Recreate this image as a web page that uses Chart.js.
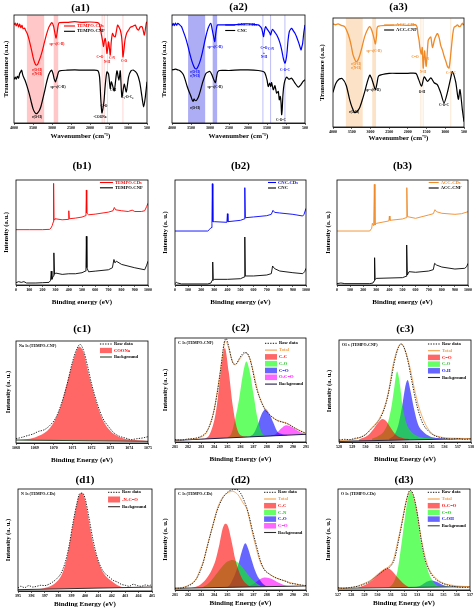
<!DOCTYPE html>
<html>
<head>
<meta charset="utf-8">
<script src="https://cdn.jsdelivr.net/npm/chart.js@4.4.0/dist/chart.umd.min.js"></script>
<style>
body{margin:0;background:#fff;width:474px;height:616px;position:relative;overflow:hidden}
canvas{position:absolute}
</style>
</head>
<body>
<script>
// ---------- (a) FTIR spectra: [wavenumber, transmittance a.u.] ----------
const a1_cds = [[4000,90.7],[3970,92.6],[3940,89.8],[3910,92.3],[3880,88.9],[3850,91.6],[3820,88.2],[3790,90.4],[3760,87.3],[3720,87.9],[3700,86.1],[3650,82.7],[3600,76.8],[3550,69.3],[3500,61.3],[3460,56.3],[3420,53.6],[3380,54.2],[3350,56.7],[3300,61.5],[3250,67.5],[3200,74.6],[3150,81.4],[3094,87.6],[3050,90.7],[3006,92.9],[2960,89.8],[2930,84.5],[2892,78.6],[2860,85.1],[2830,91.6],[2800,92.9],[2600,93.2],[2400,93.8],[2200,93.2],[2000,93.5],[1800,92.9],[1750,91.3],[1705,83],[1670,76.2],[1643,70.6],[1620,76.5],[1599,78.3],[1575,72.5],[1555,64.4],[1530,70.3],[1511,75.2],[1490,69.6],[1467,62.8],[1440,75.5],[1406,83],[1370,80.2],[1335,79.9],[1300,86.1],[1274,90.7],[1240,88.9],[1203,86.1],[1170,80.2],[1150,72.1],[1133,61.3],[1110,66.9],[1090,73.7],[1072,78.3],[1030,83.6],[984,86.1],[940,88.6],[896,89.2],[850,90.1],[808,90.7],[770,87.6],[720,86.1],[680,88.9],[632,89.2],[600,85.8],[570,81.4],[540,87.3],[520,92.3],[500,93.8]];
const a1_cnf = [[4000,40.2],[3970,42.4],[3940,40.6],[3910,43.3],[3880,41.5],[3850,45.8],[3820,47.7],[3798,48.9],[3770,44.6],[3740,41.8],[3710,39.6],[3660,34.4],[3600,27.2],[3550,20.1],[3500,13.3],[3460,10.2],[3420,8.7],[3380,9.3],[3330,11.8],[3290,15.5],[3250,21.1],[3200,28.5],[3150,36.5],[3100,43.3],[3050,47.4],[3006,48.9],[2970,45.2],[2940,40.6],[2910,38.1],[2890,39.9],[2860,43.3],[2830,47.1],[2800,48.3],[2600,48.9],[2400,49.2],[2200,48.9],[2000,48.9],[1800,48.6],[1749,42.7],[1714,21.1],[1687,9.3],[1660,13.3],[1630,21.1],[1599,35],[1555,47.4],[1511,45.2],[1467,31.9],[1440,38.1],[1415,35.9],[1362,29.7],[1291,48.3],[1239,39.6],[1203,48.3],[1160,24.1],[1098,35.9],[1045,28.8],[984,42.7],[922,48.3],[852,48.9],[764,45.8],[693,38.1],[632,24.1],[588,14.9],[544,24.1],[500,38.1]];
const a2_cds = [[4000,89.8],[3970,92.3],[3940,90.2],[3910,92.6],[3880,90.5],[3850,92.3],[3800,91],[3750,89.2],[3700,84.6],[3650,79.7],[3600,73.8],[3550,66.8],[3500,60],[3450,54.5],[3402,50.8],[3350,50.2],[3300,53.5],[3250,58.5],[3200,65.5],[3150,73.8],[3100,81.5],[3050,87.7],[2980,92.3],[2940,86.2],[2900,79],[2874,75.4],[2850,82.5],[2820,89.2],[2800,90.8],[2500,90.8],[2200,91.4],[2000,91.7],[1800,91.1],[1731,90.8],[1680,89.5],[1643,87.7],[1610,83.1],[1590,80],[1565,85.5],[1538,89.2],[1500,87.1],[1467,85.5],[1430,83.6],[1406,81.5],[1380,84.6],[1353,86.8],[1310,84.9],[1274,83.1],[1240,81.2],[1203,78.5],[1170,75.4],[1133,70.8],[1100,65.2],[1072,60],[1050,57.2],[1028,55.4],[1000,58.5],[975,64.6],[945,76.9],[913,84.6],[880,86.8],[852,87.7],[810,85.5],[764,83.1],[720,79.7],[676,75.4],[640,71.4],[606,67.7],[585,70.2],[562,73.8],[530,84],[500,90.8]];
const a2_cnc = [[4000,49.2],[3950,49.5],[3900,49.8],[3850,49.2],[3800,48.6],[3750,47.1],[3700,44.6],[3650,39.7],[3600,33.8],[3550,28.9],[3500,24.6],[3470,21.5],[3446,20],[3420,22.2],[3400,21.2],[3370,20.6],[3340,21.8],[3300,24.6],[3250,30.2],[3200,36.9],[3150,42.2],[3100,46.2],[3000,47.7],[2950,44.6],[2900,40],[2857,37.5],[2830,42.2],[2800,47.1],[2750,48.6],[2500,48.6],[2200,49.2],[2000,49.2],[1731,48.6],[1600,47.7],[1555,46.2],[1500,40],[1467,33.8],[1430,36.9],[1400,33.8],[1379,37.5],[1335,30.8],[1291,34.5],[1247,27.7],[1203,29.2],[1177,21.5],[1151,24.6],[1130,18.5],[1115,7.7],[1100,12.3],[1080,26.2],[1045,36.9],[984,42.5],[922,40.6],[852,41.5],[764,36.9],[676,33.2],[610,35.4],[550,38.5],[500,40]];
const a3_cds = [[4000,94.6],[3933,93.8],[3867,94.6],[3780,93.3],[3690,92.1],[3620,87.3],[3557,81],[3510,74],[3468,66.7],[3420,62.2],[3380,59.7],[3335,61.3],[3291,65.1],[3225,73.3],[3158,82.5],[3090,88.6],[3025,92.1],[2980,90.2],[2937,85.7],[2900,80.6],[2866,76.2],[2835,84.1],[2804,92.1],[2500,93.3],[2228,93.7],[2000,93.3],[1785,93.7],[1750,91.1],[1732,85.7],[1700,79.4],[1679,73],[1643,66.7],[1616,73],[1590,54],[1554,69.8],[1510,55.6],[1457,79.4],[1420,81.6],[1386,82.5],[1342,73],[1289,80],[1250,83.5],[1209,85.7],[1160,81.3],[1120,74.6],[1075,70.5],[1032,65.1],[985,60.3],[943,55.6],[899,54],[846,69.8],[800,85.1],[766,91.4],[720,92.4],[677,93.7],[630,92.1],[589,92.7],[544,95.2],[520,93.7],[500,94.6]];
const a3_cnf = [[4000,31.7],[3929,39.7],[3841,43.8],[3752,44.4],[3646,38.1],[3557,25.4],[3490,18],[3424,13.3],[3360,14.2],[3291,17.5],[3220,24.5],[3158,31.7],[3090,40.5],[3018,47.6],[2975,45.1],[2937,41.3],[2866,34.3],[2820,41],[2777,47],[2500,49.2],[2228,49.2],[2000,49.2],[1785,49.2],[1714,43.8],[1634,37.5],[1563,46],[1475,41.9],[1386,45.1],[1297,40.6],[1209,38.7],[1120,31.1],[1032,22.2],[943,31.7],[854,45.1],[810,50.8],[722,41.3],[651,25.4],[607,34.3],[544,15.9],[500,4.8]];

// ---------- (b) XPS survey: [binding energy, intensity a.u.] ----------
const b1_cds = [[0,52.7],[100,52.7],[200,52.7],[255,53],[265,54.3],[275,56.8],[282,59.9],[285,96.8],[288,62.1],[295,63.1],[350,62.1],[396,62.5],[400,70.7],[404,63.1],[450,63.7],[500,64.7],[525,65.9],[530,67.8],[533,90.5],[536,68.5],[550,66.9],[600,67.5],[700,69.4],[735,70.7],[745,73.8],[755,71.6],[800,70.7],[850,70],[880,71.3],[900,70],[950,70],[975,70.7],[990,74.8],[1000,77.9]];
const b1_cnf = [[0,2.2],[20,3.2],[40,2.5],[60,3.2],[80,1.9],[150,1.9],[200,2.2],[250,2.5],[262,4.4],[267,13.2],[272,5.4],[282,8.5],[287,30.6],[292,10.1],[300,11.4],[350,10.1],[400,10.7],[450,10.7],[500,11.7],[525,13.2],[530,16.4],[533,46.4],[537,16.4],[550,12.6],[600,13.2],[700,14.5],[730,16.4],[742,24.3],[750,21.1],[760,22.7],[800,19.6],[900,16.4],[975,14.5],[990,18.9],[1000,22.7]];
const b2_cds = [[0,51.4],[250,51.4],[262,52.7],[275,54.6],[282,58.4],[285,96.5],[289,60.3],[300,60.3],[396,59.7],[400,67.9],[404,60.3],[500,61.6],[528,62.9],[533,92.7],[537,64.1],[600,64.8],[700,66],[735,67.3],[748,71.1],[760,69.2],[800,68.6],[900,67.3],[975,65.7],[985,67.3],[1000,73]];
const b2_cnc = [[0,1.3],[10,2.5],[20,1.9],[50,1],[250,1],[275,1.9],[283,4.4],[288,21.9],[292,4.4],[300,5.4],[400,5.4],[500,6],[528,7.6],[533,45.7],[537,8.6],[600,8.6],[700,9.5],[735,10.8],[745,18.1],[760,15.6],[800,13.3],[900,11.7],[975,10.8],[990,12.7],[1000,15.9]];
const b3_cds = [[0,51.4],[250,51.4],[265,54],[270,58.7],[280,56.5],[285,95.9],[290,57.1],[300,58.7],[396,61],[400,65.7],[404,61.6],[500,62.9],[528,64.1],[533,92.7],[538,65.1],[600,63.5],[700,66.7],[735,67.9],[748,71.7],[760,69.8],[800,68.3],[900,67.3],[950,67.9],[1000,69.8]];
const b3_cnf = [[0,1.3],[30,1.9],[60,1.3],[250,1.3],[275,1.9],[283,3.8],[287,26],[291,5.1],[300,6.3],[500,7],[528,8.3],[532,38.1],[537,9.5],[550,12.7],[600,12.1],[700,13.3],[735,14.6],[745,20.6],[760,19],[800,17.1],[900,15.2],[975,15.9],[990,17.5],[1000,20.6]];

// ---------- (c) high resolution, TEMPO-CNF ----------
const c1_raw = [[1068,4.2],[1068.3,5.5],[1068.6,7.2],[1068.9,8.8],[1069.2,11.4],[1069.5,13],[1069.8,17.3],[1070.1,24.4],[1070.4,38.1],[1070.7,57],[1071,79.8],[1071.2,91.2],[1071.4,96.7],[1071.6,89.6],[1071.8,74.9],[1072,58.6],[1072.3,39.1],[1072.6,24.4],[1072.9,16.3],[1073.2,9.8],[1073.5,6.5],[1073.8,4.9],[1074.1,3.3],[1074.4,4.2],[1074.7,4.9],[1075,6.2]];
const c1_coona = [[1068,2.9],[1068.5,3.6],[1069,5.5],[1069.5,9.8],[1069.8,14.7],[1070.1,23.8],[1070.4,37.5],[1070.8,65.1],[1071.1,84.7],[1071.35,94.5],[1071.6,87.9],[1071.8,71.7],[1072,57],[1072.3,37.5],[1072.6,22.8],[1072.9,14],[1073.3,7.5],[1073.8,3.9],[1074.5,2.6],[1075,2]];
const c1_bg = [[1068,2.9],[1075,1.6]];

const c2_raw = [[281,2.3],[281.5,1.9],[282,2.9],[282.5,3.5],[283,5.5],[283.3,8.1],[283.6,14.5],[283.9,25.8],[284.2,45.2],[284.5,71],[284.75,95.2],[284.9,99.4],[285.1,91.9],[285.3,80.6],[285.5,74.8],[285.7,75.5],[285.9,80],[286.1,83.9],[286.3,86.1],[286.5,85.5],[286.7,80.6],[286.9,71],[287.1,58.1],[287.3,48.4],[287.6,38.1],[287.9,30.6],[288.2,26.5],[288.5,23.2],[288.8,20.6],[289.1,19.4],[289.4,18.4],[289.7,16.8],[290,14.5],[290.3,12.3],[290.6,10.3],[291,8.4]];
const c2_total = [[281,1.9],[282,2.6],[283,4.8],[283.5,11.3],[284,32.3],[284.3,54.8],[284.6,80.6],[284.85,97.4],[285.1,90.3],[285.4,76.8],[285.6,74.2],[285.9,79],[286.2,83.9],[286.4,85.5],[286.7,80.6],[287,66.1],[287.3,50],[287.6,38.7],[288,29.7],[288.4,24.2],[288.8,21],[289.2,19.4],[289.6,17.7],[290,14.5],[290.5,11.3],[291,8.1]];
const c2_bg = [[281,1.6],[291,7.4]];
const c2_cc = [[283,2.8],[283.5,4.8],[284,21],[284.2,35.5],[284.5,67.7],[284.8,90.3],[285.1,67.7],[285.4,35.5],[285.7,14.5],[286,6.5],[286.5,5]];
const c2_co = [[285,4.2],[285.3,8.1],[285.6,22.6],[285.9,41.9],[286.2,66.1],[286.45,77.4],[286.7,67.7],[287,45.2],[287.3,22.6],[287.6,9.7],[288,6],[288.5,6.1]];
const c2_c2o = [[286.7,5.2],[287,8.1],[287.3,16.1],[287.6,26.5],[287.9,31.6],[288.2,27.4],[288.5,18.7],[288.8,10.3],[289.2,7.5],[289.6,6.8]];
const c2_oco = [[288.3,6.2],[288.7,7.6],[289.1,12.9],[289.5,16.1],[289.9,14.5],[290.3,11.3],[290.7,8.6],[291,7.6]];

const c3_raw = [[528,2],[528.4,2.6],[528.8,2.3],[529.2,3.6],[529.6,4.6],[530,7.2],[530.4,12.1],[530.8,17.6],[531.2,25.1],[531.6,39.7],[531.9,57.7],[532.2,78.8],[532.5,92.5],[532.7,95.8],[532.9,93.5],[533.2,80.5],[533.5,60.9],[533.8,41.4],[534.1,26.7],[534.4,16.9],[534.8,10.4],[535.2,6.5],[535.6,4.6],[536,3.6],[536.5,2.9],[537,3.3],[537.5,2.6],[538,2.9]];
const c3_total = [[528,1.3],[529,2.3],[529.5,3.9],[530,7.2],[530.5,14.3],[531,21.8],[531.5,36.5],[531.8,52.8],[532.1,75.6],[532.4,90.2],[532.7,96.7],[533,90.2],[533.3,77.2],[533.7,52.8],[534,36.5],[534.5,18.6],[535,8.8],[535.5,5.5],[536,4.2],[537,3.6],[538,3.3]];
const c3_bg = [[528,0.7],[538,3.3]];
const c3_c2o = [[529.5,2.3],[530.2,6.5],[530.7,14.3],[531,19.5],[531.3,22.5],[531.6,20.2],[531.9,14.3],[532.3,7.2],[532.8,3.9],[533.3,2.9]];
const c3_co = [[530.5,3.3],[531,6.2],[531.4,10.4],[531.7,18.6],[532,36.5],[532.2,54.4],[532.4,69.1],[532.6,57.7],[532.8,36.5],[533.1,18.6],[533.5,9.8],[534,5.5],[534.6,3.9],[535.2,3.3]];
const c3_oh = [[531.8,3.3],[532.2,7.2],[532.5,16.9],[532.8,36.5],[533,52.8],[533.2,60.9],[533.4,51.1],[533.7,31.6],[534,16.9],[534.4,9.8],[534.9,5.5],[535.5,3.9],[536.2,3.3]];

// ---------- (d) high resolution, TEMPO-CDs ----------
const d1_raw = [[395,3],[395.2,4.6],[395.5,3.3],[395.8,5.3],[396.1,3.9],[396.4,4.6],[396.7,5.6],[397,5.3],[397.3,6.6],[397.6,8.9],[397.9,12.2],[398.2,17.1],[398.5,27],[398.8,43.4],[399.1,66.4],[399.4,86.2],[399.6,95.4],[399.8,96],[400,91.1],[400.3,71.4],[400.6,50],[400.9,33.6],[401.2,23],[401.5,17.1],[401.8,13.8],[402.1,10.5],[402.4,8.9],[402.7,6.6],[403,5.6],[403.3,4.6],[403.6,6.6],[403.9,5.3],[404.2,4.6],[404.5,5.9],[404.8,5.3],[405,6.6]];
const d1_nco = [[395,1.3],[396.5,1.8],[397,3],[397.4,4.6],[398,10.5],[398.3,17.1],[398.6,29.6],[399,58.2],[399.3,79.6],[399.55,93.4],[399.75,96],[400,89.5],[400.3,68.1],[400.6,46.7],[401,28.6],[401.4,17.1],[401.9,10.5],[402.6,4.6],[403.2,3.4],[403.8,3.6],[405,3.9]];
const d1_bg = [[395,1.3],[405,3.9]];

const d2_raw = [[281,1.7],[281.5,2],[282,4],[282.4,7.3],[282.8,14.9],[283.1,24.8],[283.4,39.7],[283.8,59.6],[284.2,77.8],[284.6,90.1],[285,96.7],[285.4,99.3],[285.7,99.6],[286,96],[286.3,87.7],[286.6,76.2],[286.9,59.6],[287.2,44.7],[287.5,29.8],[287.8,20.5],[288.2,15.9],[288.6,12.6],[289,10.6],[289.4,8.9],[289.8,6.6],[290.2,6],[290.6,5],[291,4.3]];
const d2_total = [[281,1.7],[281.6,2.6],[282.2,6],[282.6,10.6],[282.9,19.9],[283.2,29.8],[283.5,45.7],[283.9,64.6],[284.2,79.5],[284.6,91.1],[285,96],[285.4,97.7],[285.8,94.4],[286.2,86.1],[286.5,79.5],[286.8,62.9],[287.1,46.4],[287.5,28.1],[287.85,19.9],[288.3,14.9],[288.8,11.6],[289.3,9.3],[289.8,7.3],[290.4,5.3],[291,4]];
const d2_bg = [[281,1.7],[291,4]];
const d2_cc = [[282.2,2],[282.6,3.3],[283,6],[283.5,13.2],[283.8,19.9],[284.1,29.8],[284.4,45.7],[284.65,61.3],[284.85,65.6],[285.05,62.9],[285.35,46.4],[285.6,30.5],[286.05,13.2],[286.4,6.6],[286.8,3.3],[287.3,3.1]];
const d2_cn = [[283,2.3],[283.5,6],[284,13.2],[284.5,21.5],[285,28.1],[285.4,29.8],[285.8,27.2],[286.3,19.9],[286.8,11.6],[287.3,6],[287.8,3.3],[288.3,3.4]];
const d2_co = [[284.8,2.6],[285.1,4],[285.5,13.2],[285.8,23.8],[286.1,38.1],[286.37,46.4],[286.6,40.4],[286.85,29.8],[287.1,19.9],[287.4,11.6],[287.9,4.3],[288.4,3.4]];
const d2_c2o = [[286.5,3.2],[287,6],[287.4,9.9],[287.85,12.3],[288.3,11.3],[288.8,7.9],[289.3,5],[289.8,3.9],[290.5,3.9]];

const d3_raw = [[527,2.3],[527.4,1.7],[527.8,2.3],[528.2,3],[528.6,4],[529,6],[529.4,8.3],[529.8,12.6],[530.2,16.6],[530.6,20.5],[531,23.8],[531.3,31.5],[531.6,49.7],[531.9,69.5],[532.2,89.4],[532.45,98.7],[532.7,94.4],[533,76.2],[533.3,49.7],[533.6,29.8],[534,17.2],[534.4,10.6],[534.8,7.3],[535.2,5.3],[535.6,4],[536,3],[536.5,2.6],[537,2.6]];
const d3_total = [[527,1.7],[528,2.3],[528.5,4],[529,6.6],[529.5,9.9],[530,15.6],[530.5,20.5],[530.9,23.8],[531.2,29.8],[531.5,46.4],[531.8,64.6],[532.1,84.4],[532.35,96],[532.5,98.3],[532.7,93.4],[532.95,79.5],[533.3,51.3],[533.7,28.1],[534,18.2],[534.5,10.6],[535,6.6],[535.5,5],[536,4],[537,3.3]];
const d3_bg = [[527,1.7],[537,3.3]];
const d3_oco = [[528.5,2.3],[529,4.6],[529.5,8.6],[530,14.9],[530.4,19.9],[530.75,21.5],[531.1,18.9],[531.5,12.6],[532,6],[532.5,2.6],[533,2.6]];
const d3_c2o = [[530.5,2.3],[531,4],[531.3,9.9],[531.5,18.2],[531.8,44.7],[532.05,69.5],[532.3,91.1],[532.5,97.7],[532.7,92.1],[532.95,77.8],[533.3,46.4],[533.8,19.9],[534.1,10.6],[534.45,5],[535,3.1],[535.5,3.1]];
const d3_coh = [[532.8,2.6],[533.2,4],[533.6,7.3],[534.05,9.3],[534.5,7.9],[535,4.6],[535.5,3.2],[536,3.1]];

// colours
const RED = '#ff0000', BLUE = '#0000ff', ORANGE = '#ef8a28', BLACK = '#000000', TOTAL = '#f5a04a';
const F_RED = 'rgba(255,0,0,0.6)', F_GRN = 'rgba(0,255,0,0.6)', F_BLU = 'rgba(0,0,255,0.6)', F_MAG = 'rgba(255,0,255,0.6)';
const SERIF = '"Liberation Serif", "Times New Roman", serif';
const PAD = {l: 16, t: 22, r: 10, b: 24};

function xy(a) { return a.map(p => ({x: p[0], y: p[1]})); }
function trace(a, color, w, label, smooth) {
  return {label, data: xy(a), borderColor: color, borderWidth: w, pointRadius: 0, fill: false,
    tension: smooth ? 0.25 : 0, kind: 'line', lc: color};
}
function dots(a) {
  return {label: 'Raw data', data: xy(a), borderColor: '#111', borderWidth: 0.9, borderDash: [1.3, 1.3],
    pointRadius: 0, fill: false, cubicInterpolationMode: 'monotone', kind: 'dash', lc: BLACK};
}
function fitline(a, color, w, label, lc) {
  return {label, data: xy(a), borderColor: color, borderWidth: w, pointRadius: 0, fill: false,
    cubicInterpolationMode: 'monotone', kind: 'line', lc: lc || color};
}
function peak(a, color, label, lc, target) {
  return {label, data: xy(a), borderWidth: 0, borderColor: 'rgba(0,0,0,0)', backgroundColor: color,
    pointRadius: 0, fill: target, cubicInterpolationMode: 'monotone', kind: 'box', lc};
}
function band(x1, x2, color) {
  return {data: xy([[x1, 100], [x2, 100]]), borderWidth: 0, borderColor: 'rgba(0,0,0,0)',
    backgroundColor: color, pointRadius: 0, fill: 'start'};
}
function mark(x, color) {
  return {data: xy([[x, 0], [x, 100]]), borderWidth: 0.8, borderColor: color, pointRadius: 0, fill: false};
}

// decorations: frame, panel title, in-plot notes, legend
function deco(p) {
  return {
    id: 'deco',
    afterDraw(chart) {
      const c = chart.ctx, a = chart.chartArea, sx = chart.scales.x, sy = chart.scales.y;
      c.save();
      c.strokeStyle = '#000'; c.lineWidth = 0.8;
      c.strokeRect(a.left, a.top, a.right - a.left, a.bottom - a.top);
      c.textAlign = 'center'; c.textBaseline = 'middle'; c.fillStyle = '#000';
      c.font = 'bold 11px ' + SERIF;
      c.fillText(p.title, (a.left + a.right) / 2, a.top - p.titleGap);
      c.font = 'bold 3.4px ' + SERIF;
      (p.notes || []).forEach(n => {
        c.fillStyle = n[3];
        c.fillText(n[0], sx.getPixelForValue(n[1]), sy.getPixelForValue(n[2]));
      });
      c.textAlign = 'left';
      if (p.tag) {
        c.font = 'bold 4px ' + SERIF; c.fillStyle = '#000';
        c.fillText(p.tag, a.left + 3, a.top + 4.5);
      }
      const L = p.legend;
      const x0 = a.left + L.fx * (a.right - a.left);
      c.font = 'bold 4.6px ' + SERIF;
      L.items.forEach((idx, i) => {
        const d = chart.data.datasets[idx];
        const y = a.top + L.dy + i * L.row;
        if (d.kind === 'box') {
          c.fillStyle = d.backgroundColor;
          c.fillRect(x0, y - L.row / 2 + 0.6, L.sl, L.row - 1.2);
        } else {
          c.strokeStyle = d.borderColor;
          c.lineWidth = d.kind === 'dash' ? 1 : 1.1;
          c.setLineDash(d.kind === 'dash' ? [1.3, 1.3] : []);
          c.beginPath(); c.moveTo(x0, y); c.lineTo(x0 + L.sl, y); c.stroke();
          c.setLineDash([]);
        }
        c.fillStyle = d.lc;
        c.fillText(d.label, x0 + L.sl + 2, y);
      });
      c.restore();
    }
  };
}

function draw(p) {
  const [L, T, R, B] = p.box;
  const cv = document.createElement('canvas');
  cv.width = R - L + PAD.l + PAD.r;
  cv.height = B - T + PAD.t + PAD.b;
  cv.style.left = (L - PAD.l) + 'px';
  cv.style.top = (T - PAD.t) + 'px';
  document.body.appendChild(cv);
  new Chart(cv, {
    type: 'line',
    data: {datasets: p.sets},
    options: {
      responsive: false, animation: false, devicePixelRatio: 1,
      layout: {padding: {left: 0, top: PAD.t, right: PAD.r, bottom: 0}},
      plugins: {legend: {display: false}, tooltip: {enabled: false}},
      scales: {
        x: {
          type: 'linear', min: p.xr[0], max: p.xr[1], reverse: !!p.rev,
          afterFit(ax) { ax.height = PAD.b; ax.paddingLeft = 0; ax.paddingRight = 0; },
          ticks: {stepSize: p.step, autoSkip: false, maxRotation: 0, padding: 1, color: '#000',
            font: {family: SERIF, size: 4, weight: 'bold'}, callback: v => String(v)},
          grid: {drawOnChartArea: false, drawTicks: true, tickLength: 2, color: '#000', lineWidth: 0.6},
          border: {color: '#000', width: 0.8},
          title: {display: true, text: p.xt, color: '#000', font: {family: SERIF, size: 7, weight: 'bold'},
            padding: {top: 0, bottom: PAD.b - p.xGap - 4.2}}
        },
        y: {
          min: 0, max: 100,
          afterFit(ax) { ax.width = PAD.l; ax.paddingTop = 0; ax.paddingBottom = 0; },
          ticks: {display: false}, grid: {display: false}, border: {display: false},
          title: {display: true, text: p.yt, color: '#000', font: {family: SERIF, size: 6.5, weight: 'bold'},
            padding: {top: PAD.l - p.yGap - 3.9, bottom: 0}}
        }
      }
    },
    plugins: [deco(p)]
  });
}

const FT = 'Wavenumber (cm\u207B\u00B9)';
const TR = 'Transmittance (a.u.)';
const BE = 'Binding energy (eV)', BE2 = 'Binding Energy (eV)';
const INT = 'Intensity (a.u.)', INT2 = 'Intensity (a. u.)';
const PINK = 'rgba(255,0,0,0.22)', LILAC = 'rgba(40,40,230,0.38)', PEACH = 'rgba(245,150,50,0.28)';

const panels = [
  {title: '(a1)', box: [14, 15, 147, 123], titleGap: 7, yGap: 8, xGap: 13, xr: [500, 4000], rev: true, step: 500, xt: FT, yt: TR,
    sets: [trace(a1_cds, RED, 1.2, 'TEMPO-CDs', true), trace(a1_cnf, BLACK, 1.2, 'TEMPO-CNF', true),
      band(3666, 3200, PINK), band(2962, 2830, PINK), mark(1680, PINK), mark(1625, PINK), mark(1540, PINK), mark(1133, PINK)],
    legend: {fx: 0.376, dy: 11, row: 5.3, sl: 11, items: [0, 1]},
    notes: [['\u03BD(O-H)', 3395, 49, RED], ['\u03BD(N-H)', 3395, 45, RED], ['sp\u00B3 \u03BD(C-H)', 2870, 73, RED],
      ['C=O', 1737, 61, RED], ['N-H', 1553, 56, RED], ['C-N', 1420, 60, RED], ['C-O', 1105, 57, RED],
      ['sp\u00B3 \u03BD(C-H)', 2842, 33, BLACK], ['\u03BD(O-H)', 3395, 5, BLACK], ['C=O', 1632, 16, BLACK],
      ['-COONa', 1737, 5, BLACK], ['C-H', 1395, 30, BLACK], ['C\u2081-O-C\u2084', 1020, 24, BLACK]]},
  {title: '(a2)', box: [172, 15, 305, 123], titleGap: 8, yGap: 8, xGap: 13, xr: [500, 4000], rev: true, step: 500, xt: FT, yt: TR,
    sets: [trace(a2_cds, BLUE, 1.2, 'CNC-CDs', true), trace(a2_cnc, BLACK, 1.2, 'CNC', true),
      band(3578, 3121, LILAC), band(2936, 2806, LILAC), mark(1608, LILAC), mark(1406, LILAC), mark(1028, LILAC)],
    legend: {fx: 0.40, dy: 10, row: 5.5, sl: 10, items: [0, 1]},
    notes: [['\u03BD(O-H)', 3395, 47, BLUE], ['\u03BD(N-H)', 3395, 43, BLUE], ['sp\u00B3 \u03BD(C-H)', 2868, 70, BLUE],
      ['C=O', 1579, 69, BLUE], ['+', 1579, 65, BLUE], ['N-H', 1579, 61, BLUE], ['C-N', 1395, 68, BLUE], ['C-O-C', 1026, 49, BLUE],
      ['sp\u00B3 \u03BD(C-H)', 2868, 33, BLACK], ['\u03BD(O-H)', 3395, 14, BLACK], ['C-O-C', 1132, 3, BLACK]]},
  {title: '(a3)', box: [333, 18, 464, 127], titleGap: 11, yGap: 11, xGap: 11, xr: [500, 4000], rev: true, step: 500, xt: FT, yt: TR,
    sets: [trace(a3_cds, ORANGE, 1.3, 'ACC-CDs', true), trace(a3_cnf, BLACK, 1.2, 'ACC-CNF', true),
      band(3663, 3203, PEACH), band(2954, 2848, PEACH), mark(1652, PEACH), mark(1590, PEACH), mark(854, PEACH)],
    legend: {fx: 0.39, dy: 7, row: 5, sl: 10, items: [0, 1]},
    notes: [['\u03BD(O-H)', 3385, 58, ORANGE], ['\u03BD(N-H)', 3385, 54, ORANGE], ['sp\u00B3 \u03BD(C-H)', 2905, 70, ORANGE],
      ['C=O', 1809, 64, ORANGE], ['N-H', 1595, 50, ORANGE], ['C-N', 1515, 62, ORANGE], ['C-O-C', 847, 49, ORANGE],
      ['sp\u00B3 \u03BD(C-H)', 2931, 34, BLACK], ['\u03BD(O-H)', 3439, 14, BLACK], ['O-H', 1622, 32, BLACK], ['C-O-C', 1034, 20, BLACK]]},

  {title: '(b1)', box: [16, 180, 148, 285], titleGap: 14, yGap: 10, xGap: 17, xr: [0, 1000], step: 100, xt: BE, yt: INT,
    sets: [trace(b1_cds, RED, 0.9, 'TEMPO-CDs'), trace(b1_cnf, BLACK, 0.9, 'TEMPO-CNF')],
    legend: {fx: 0.636, dy: 2.5, row: 5.3, sl: 13, items: [0, 1]}},
  {title: '(b2)', box: [175, 180, 306, 285], titleGap: 14, yGap: 10, xGap: 17, xr: [0, 1000], step: 100, xt: BE, yt: INT2,
    sets: [trace(b2_cds, BLUE, 0.9, 'CNC-CDs'), trace(b2_cnc, BLACK, 0.9, 'CNC')],
    legend: {fx: 0.71, dy: 2.5, row: 5.5, sl: 8, items: [0, 1]}},
  {title: '(b3)', box: [337, 180, 468, 285], titleGap: 14, yGap: 9, xGap: 17, xr: [0, 1000], step: 100, xt: BE, yt: INT2,
    sets: [trace(b3_cds, ORANGE, 0.9, 'ACC-CDs'), trace(b3_cnf, BLACK, 0.9, 'ACC-CNF')],
    legend: {fx: 0.70, dy: 2.5, row: 5.5, sl: 10, items: [0, 1]}},

  {title: '(c1)', box: [16, 341, 148, 443], titleGap: 12, yGap: 8, xGap: 17, xr: [1068, 1075], step: 1, xt: BE2, yt: INT2,
    tag: 'Na 1s (TEMPO-CNF)',
    sets: [dots(c1_raw), fitline(c1_bg, '#2c4a2c', 1, 'Background', BLACK), peak(c1_coona, F_RED, 'COONa', RED, 1)],
    legend: {fx: 0.636, dy: 3, row: 6.5, sl: 12, items: [0, 2, 1]}},
  {title: '(c2)', box: [175, 338, 306, 442], titleGap: 10, yGap: 10, xGap: 17, xr: [281, 291], step: 1, xt: BE2, yt: INT2,
    tag: 'C 1s (TEMPO-CNF)',
    sets: [dots(c2_raw), fitline(c2_total, TOTAL, 0.8, 'Total'), fitline(c2_bg, '#1e1e46', 1, 'Background', BLACK),
      peak(c2_cc, F_RED, 'C-C', RED, 2), peak(c2_co, F_GRN, 'C-O', '#1fc01f', 2),
      peak(c2_c2o, F_BLU, 'C=O', BLUE, 2), peak(c2_oco, F_MAG, 'O-C=O', '#ff00ff', 2)],
    legend: {fx: 0.687, dy: 5.3, row: 6.8, sl: 12, items: [0, 1, 3, 4, 5, 6, 2]}},
  {title: '(c3)', box: [339, 340, 471, 442], titleGap: 11, yGap: 10, xGap: 17, xr: [528, 538], step: 1, xt: BE2, yt: INT2,
    tag: 'O1 s (TEMPO-CNF)',
    sets: [dots(c3_raw), fitline(c3_total, TOTAL, 0.8, 'Total'), fitline(c3_bg, '#2a2a40', 1, 'Background', BLACK),
      peak(c3_c2o, F_RED, 'C=O', RED, 2), peak(c3_co, F_GRN, 'C-O', '#1fc01f', 2), peak(c3_oh, F_BLU, 'O-H', BLUE, 2)],
    legend: {fx: 0.674, dy: 4, row: 6.7, sl: 12, items: [0, 1, 3, 4, 5, 2]}},

  {title: '(d1)', box: [18, 489, 152, 591], titleGap: 8.5, yGap: 10, xGap: 13, xr: [395, 405], step: 1, xt: BE2, yt: INT2,
    tag: 'N 1s (TEMPO-CDs)',
    sets: [dots(d1_raw), fitline(d1_bg, '#3a2e2e', 1, 'Background', BLACK), peak(d1_nco, F_RED, '-N-C=O', RED, 1)],
    legend: {fx: 0.672, dy: 3.3, row: 7.2, sl: 12, items: [0, 2, 1]}},
  {title: '(d2)', box: [175, 489, 306, 590], titleGap: 9, yGap: 10, xGap: 13, xr: [281, 291], step: 1, xt: BE2, yt: INT2,
    tag: 'C 1s (TEMPO-CDs)',
    sets: [dots(d2_raw), fitline(d2_total, TOTAL, 0.8, 'Total'), fitline(d2_bg, '#2a2a2a', 1, 'Background', BLACK),
      peak(d2_cc, F_RED, 'C-C', RED, 2), peak(d2_cn, F_GRN, 'C-N', '#1fc01f', 2),
      peak(d2_co, F_BLU, 'C-O', BLUE, 2), peak(d2_c2o, F_MAG, 'C=O', '#ff00ff', 2)],
    legend: {fx: 0.68, dy: 3.3, row: 6.7, sl: 12, items: [0, 1, 3, 4, 5, 6, 2]}},
  {title: '(d3)', box: [338, 489, 470, 590], titleGap: 9, yGap: 10, xGap: 13, xr: [527, 537], step: 1, xt: BE2, yt: INT2,
    tag: 'O 1s (TEMPO-CDs)',
    sets: [dots(d3_raw), fitline(d3_total, TOTAL, 0.8, 'Total'), fitline(d3_bg, '#3a4036', 1, 'Background', BLACK),
      peak(d3_oco, F_RED, 'O-C=O', RED, 2), peak(d3_c2o, F_GRN, 'C=O', '#1fc01f', 2), peak(d3_coh, F_BLU, 'C-OH', BLUE, 2)],
    legend: {fx: 0.68, dy: 3.3, row: 6.7, sl: 12, items: [0, 1, 3, 4, 5, 2]}}
];

panels.forEach(draw);
</script>
</body>
</html>
